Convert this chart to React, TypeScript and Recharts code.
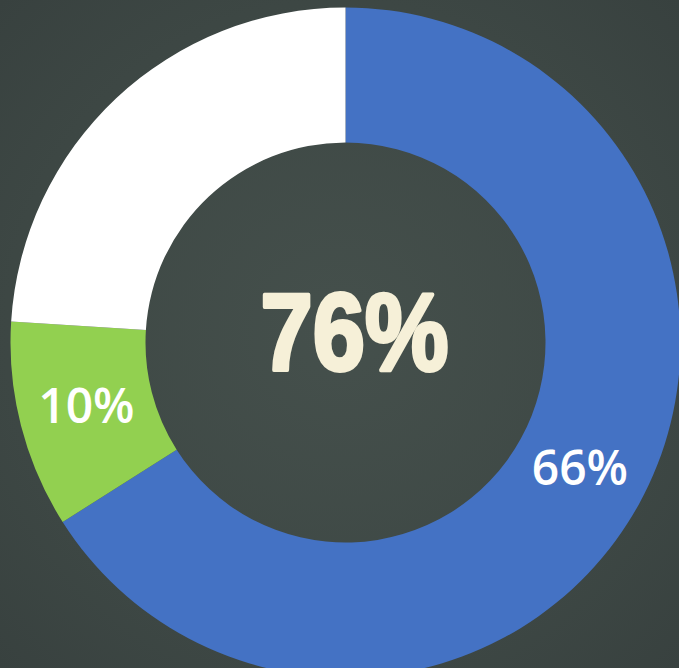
import React from "react";
import { PieChart, Pie, Cell, Label } from "recharts";

const categories = ["Blue", "Green", "White"];
const values = [66, 10, 24];
const labels = ["66%", "10%", ""];
const colors = ["#4472C4", "#92D050", "#FFFFFF"];
const centerText = "76%";

const data = categories.map((name, i) => ({ name, value: values[i], label: labels[i] }));

const RADIAN = Math.PI / 180;

const renderLabel = (props: any) => {
  const { cx, cy, midAngle, innerRadius, outerRadius, index } = props;
  const txt = labels[index];
  if (!txt) return null;
  const r = (innerRadius + outerRadius) / 2;
  const x = cx + r * Math.cos(-midAngle * RADIAN);
  const y = cy + r * Math.sin(-midAngle * RADIAN);
  return (
    <text
      x={x}
      y={y - 5}
      fill="#FFFFFF"
      textAnchor="middle"
      dominantBaseline="central"
      style={{ fontFamily: "'Open Sans', sans-serif", fontWeight: 600, fontSize: 48 }}
    >
      {txt}
    </text>
  );
};

const renderCenter = (props: any) => {
  const vb = props.viewBox || {};
  const cx = vb.cx ?? 345.5;
  const cy = vb.cy ?? 342.5;
  return (
    <text
      x={cx + 9}
      y={cy - 11}
      fill="#F6F0D8"
      stroke="#F6F0D8"
      strokeWidth={4}
      strokeLinejoin="round"
      textAnchor="middle"
      dominantBaseline="central"
      textLength={188}
      lengthAdjust="spacingAndGlyphs"
      style={{ fontFamily: "'Liberation Sans', Arial, sans-serif", fontWeight: 900, fontSize: 110 }}
    >
      {centerText}
    </text>
  );
};

export default function App() {
  return (
    <div
      style={{
        position: "absolute",
        left: 0,
        top: 0,
        width: 679,
        height: 668,
        background: "radial-gradient(circle at 50% 50%, #45504c 0%, #3d4744 70%, #38413f 100%)",
        overflow: "hidden",
      }}
    >
      <PieChart width={679} height={668} margin={{ top: 0, right: 0, bottom: 0, left: 0 }}>
        <Pie
          data={data}
          dataKey="value"
          nameKey="name"
          cx={345.5}
          cy={342.5}
          innerRadius={200}
          outerRadius={335}
          startAngle={90}
          endAngle={-270}
          stroke="none"
          isAnimationActive={false}
          labelLine={false}
          label={renderLabel}
        >
          {data.map((d, i) => (
            <Cell key={d.name} fill={colors[i]} />
          ))}
          <Label position="center" content={renderCenter} />
        </Pie>
      </PieChart>
    </div>
  );
}
